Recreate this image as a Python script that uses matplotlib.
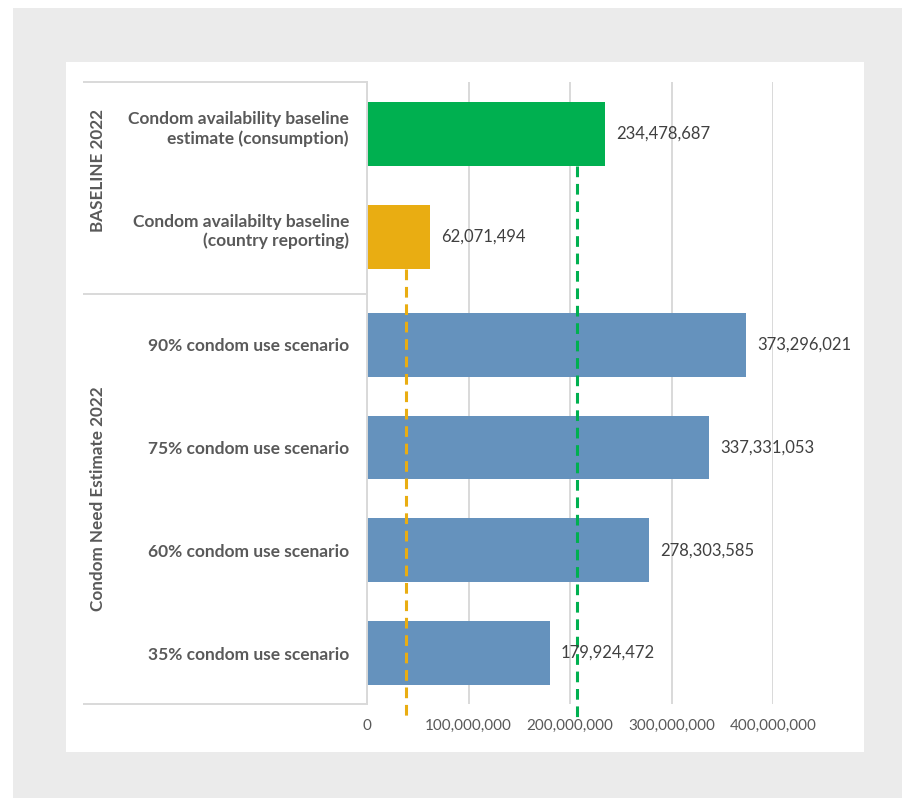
import matplotlib.pyplot as plt
from matplotlib.ticker import FuncFormatter
from matplotlib.transforms import ScaledTranslation

categories = [
    "Condom availability baseline\nestimate (consumption)",
    "Condom availabilty baseline\n(country reporting)",
    "90% condom use scenario",
    "75% condom use scenario",
    "60% condom use scenario",
    "35% condom use scenario",
]
values = [234478687, 62071494, 373296021, 337331053, 278303585, 179924472]
bar_colors = ["#00b050", "#e9ad12", "#6592bd", "#6592bd", "#6592bd", "#6592bd"]

groups = ["BASELINE 2022", "Condom Need Estimate 2022"]
group_label_y = [171, 499]

# dashed reference markers hanging from the two baseline bars
ref_values = [207000000, 38500000]
ref_from_bar = [0, 1]
ref_colors = ["#00b050", "#e9ad12"]

x_ticks = [0, 100000000, 200000000, 300000000, 400000000]

W, H = 902, 798
fig = plt.figure(figsize=(W / 100, H / 100), dpi=100)
fig.patch.set_facecolor("white")
plt.rcParams["font.family"] = ["Lato", "DejaVu Sans"]


def fx(px):
    return px / W


def fy(py):
    return 1 - py / H


# grey frame with the white card on top
fig.patches.append(plt.Rectangle((fx(13), 0), 1 - fx(13), fy(8), transform=fig.transFigure,
                                 facecolor="#ebebeb", edgecolor="none", zorder=-2))
fig.patches.append(plt.Rectangle((fx(66), fy(752)), fx(864 - 66), fy(62) - fy(752),
                                 transform=fig.transFigure, facecolor="white",
                                 edgecolor="none", zorder=-1))

ax = fig.add_axes([fx(367), fy(704), fx(773 - 367), fy(82) - fy(704)])
ax.set_facecolor("none")

# slightly wider gap between the two groups
pos = [0, 1, 2.05, 3.05, 4.05, 5.05]
bar_h = 0.62
ax.barh(pos, values, height=bar_h, color=bar_colors, zorder=2)
ax.set_ylim(5.545, -0.506)
ax.set_xlim(0, 400000000)

for p, v in zip(pos, values):
    ax.annotate(f"{v:,}", (v, p), xytext=(11, 0), textcoords="offset pixels",
                va="center", ha="left", fontsize=12, color="#404040", zorder=4)

bottom_ext = 5.545 + 13 / 102.8
for rv, bi, c in zip(ref_values, ref_from_bar, ref_colors):
    ax.plot([rv, rv], [pos[bi] + bar_h / 2, bottom_ext], color=c, lw=2.2,
            dashes=(3.5, 2.2), clip_on=False, zorder=3)

ax.set_xticks(x_ticks)
ax.xaxis.set_major_formatter(FuncFormatter(lambda v, _: f"{int(v):,}"))
ax.tick_params(axis="x", length=0, pad=11, labelsize=11, labelcolor="#595959")
ax.grid(axis="x", color="#d9d9d9", lw=1.4, zorder=0)
ax.set_axisbelow(True)

ax.set_yticks(pos)
ax.set_yticklabels(categories, fontsize=12.5, fontweight="bold", color="#595959",
                   multialignment="right", linespacing=1.2)
ax.tick_params(axis="y", length=0, pad=13)

# two-line labels sit a little above their bar centre
for lbl in ax.get_yticklabels()[:2]:
    lbl.set_transform(lbl.get_transform() + ScaledTranslation(0, 0.08, fig.dpi_scale_trans))

for s in ["top", "right", "bottom"]:
    ax.spines[s].set_visible(False)
ax.spines["left"].set_color("#d9d9d9")
ax.spines["left"].set_linewidth(1.4)

# multi-level category frame on the left
line_kw = dict(color="#d9d9d9", lw=1.4, transform=fig.transFigure, zorder=5)
edges = [82, 294, 704]
for e in edges:
    fig.add_artist(plt.Line2D([fx(84), fx(367)], [fy(e), fy(e)], **line_kw))

for g, gy in zip(groups, group_label_y):
    fig.text(fx(98), fy(gy), g, rotation=90, ha="center", va="center",
             fontsize=12.3, fontweight="bold", color="#595959", zorder=5)

fig.savefig("out.png", dpi=100)
